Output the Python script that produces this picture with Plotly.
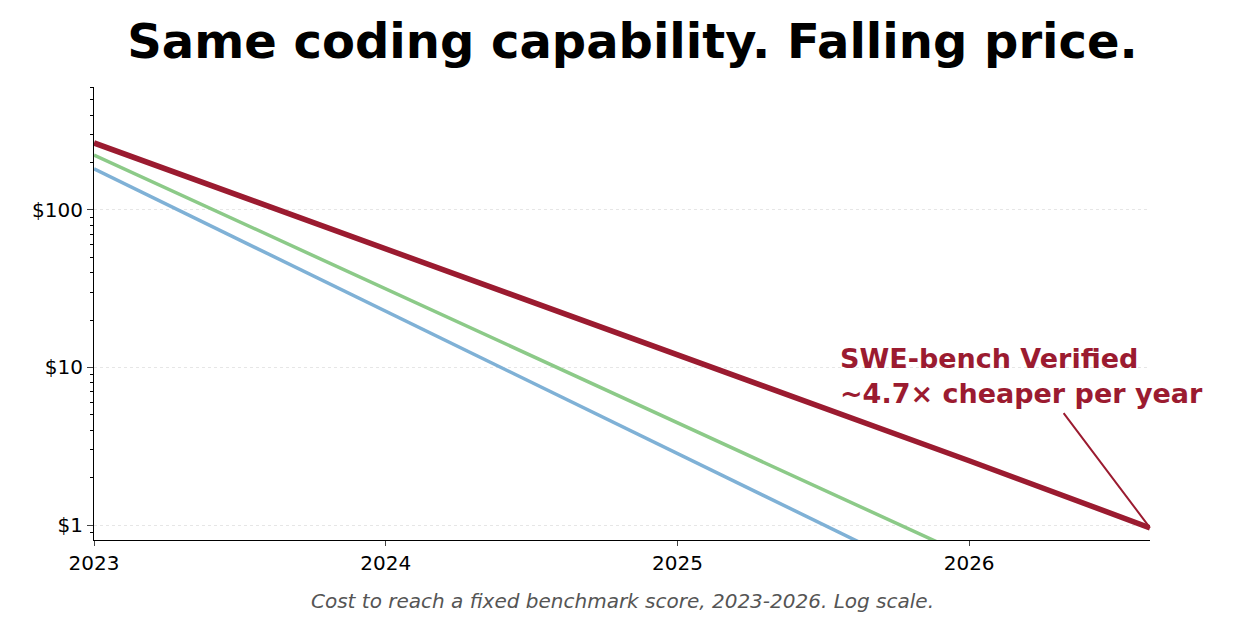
import math
import plotly.graph_objects as go

years = [2023, 2024, 2025, 2026, 2026.62]
red_vals = [266, 56.6, 12.0, 2.56, 0.96]
green_vals = [223, 31.5, 4.46, 0.63, 0.19]
blue_vals = [182, 22.7, 2.84, 0.355, 0.098]
ytick_vals = [1, 10, 100]
ytick_text = ["$1", "$10", "$100"]
xtick_vals = [2023, 2024, 2025, 2026]

fig = go.Figure()
fig.add_trace(go.Scatter(x=years, y=blue_vals, mode="lines", line=dict(color="#7fb1d6", width=3.5), showlegend=False))
fig.add_trace(go.Scatter(x=years, y=green_vals, mode="lines", line=dict(color="#8cca88", width=3.5), showlegend=False))
fig.add_trace(go.Scatter(x=years, y=red_vals, mode="lines", line=dict(color="#9b1b30", width=5.5), showlegend=False))

minor_vals = [v * m for v in [0.1, 1, 10, 100] for m in range(2, 10)]
fig.update_layout(
    width=1249, height=644, plot_bgcolor="white", paper_bgcolor="white",
    margin=dict(l=86, r=107, t=79, b=112),
    font=dict(family="DejaVu Sans", color="black", size=20),
    title=dict(text="<b>Same coding capability. Falling price.</b>", x=0.5, xanchor="center",
               y=0.975, yanchor="top", font=dict(size=48)),
    xaxis=dict(range=[2023, 2026.62], tickvals=xtick_vals, showgrid=False, showline=True,
               linecolor="black", ticks="outside", ticklen=5, zeroline=False),
    yaxis=dict(type="log", range=[-0.095, 2.78], tickvals=ytick_vals, ticktext=ytick_text,
               showgrid=True, gridcolor="#e6e6e6", griddash="dot", showline=True, linecolor="black",
               ticks="outside", ticklen=6, zeroline=False,
               minor=dict(tickvals=minor_vals, ticks="outside", ticklen=3, tickcolor="black", showgrid=False)),
    annotations=[
        dict(x=2026.62, y=math.log10(0.96), xref="x", yref="y",
             ax=2026.32, ay=0.72, axref="x", ayref="y",
             text="", showarrow=True, arrowhead=0, arrowwidth=2, arrowcolor="#9b1b30", standoff=0),
        dict(x=2025.55, y=0.945, xref="x", yref="y", showarrow=False,
             text="<b>SWE-bench Verified<br>~4.7× cheaper per year</b>",
             xanchor="left", yanchor="middle", align="left",
             font=dict(color="#9b1b30", size=27)),
        dict(x=0.5, y=-0.165, xref="paper", yref="paper", showarrow=False,
             text="<i>Cost to reach a fixed benchmark score, 2023-2026. Log scale.</i>",
             font=dict(color="#555555", size=20)),
    ],
)
fig.write_html("out.html")
